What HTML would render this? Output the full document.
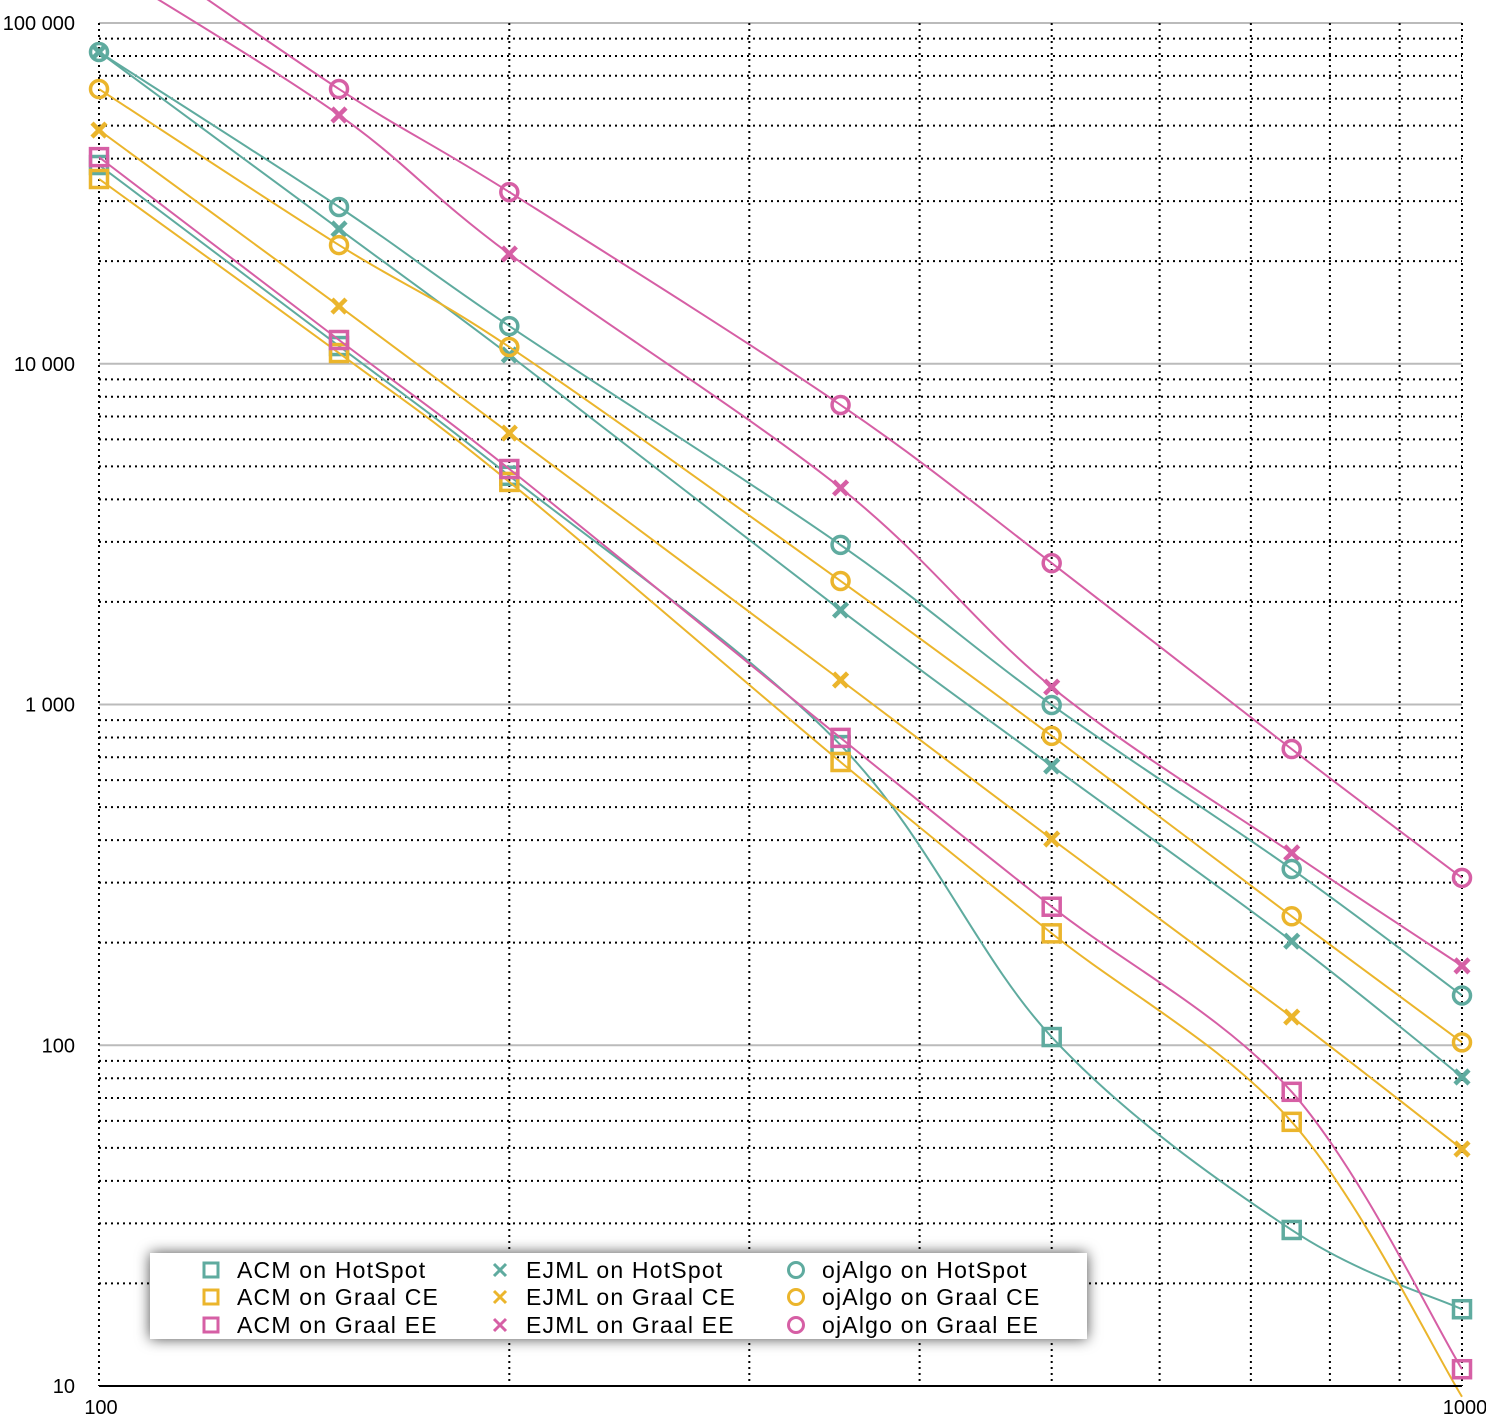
<!DOCTYPE html>
<html><head><meta charset="utf-8"><style>
body{margin:0;background:#fff}
svg{display:block;font-family:"Liberation Sans",sans-serif}
</style></head><body>
<svg id="chart" width="1486" height="1419" viewBox="0 0 1486 1419" xmlns="http://www.w3.org/2000/svg">
<defs><filter id="sh" x="-10%" y="-40%" width="120%" height="180%"><feDropShadow dx="0" dy="0" stdDeviation="7" flood-color="#000" flood-opacity="0.7"/></filter></defs>
<g id="grid"></g>
<g id="series"></g>
<g id="axes"></g>
<g id="legend"></g>
</svg>
<script>
const xValues=[100,150,200,350,500,750,1000];
const yTickValues=[10,100,1000,10000,100000];
const yTickLabels=["10","100","1 000","10 000","100 000"];
const xTickValues=[100,1000];
const xTickLabels=["100","1000"];
const acmHotSpot=[38300,11270,4690,760,105.7,28.7,16.8];
const acmGraalCE=[34850,10750,4500,678,213,59.6,9.3];
const acmGraalEE=[40400,11740,4910,798,255,73,11.2];
const ejmlHotSpot=[82200,24860,10610,1893,660,202,80.7];
const ejmlGraalCE=[48500,14770,6260,1180,403,121,49.6];
const ejmlGraalEE=[150000,53700,21000,4320,1125,367,171];
const ojHotSpot=[82200,28840,12900,2940,997,329,140];
const ojGraalCE=[64000,22300,11200,2304,809,239,102];
const ojGraalEE=[195000,64000,31900,7570,2600,740,310];
const seriesNames=["ACM on HotSpot","ACM on Graal CE","ACM on Graal EE","EJML on HotSpot","EJML on Graal CE","EJML on Graal EE","ojAlgo on HotSpot","ojAlgo on Graal CE","ojAlgo on Graal EE"];

const NS="http://www.w3.org/2000/svg";
const X0=99,X1=1462,Y10=1386,DEC=340.75;
function sx(v){return X0+Math.log10(v/100)*(X1-X0);}
function sy(v){return Y10-Math.log10(v/10)*DEC;}
function mk(tag,attrs,parent){const e=document.createElementNS(NS,tag);for(const k in attrs)e.setAttribute(k,attrs[k]);parent.appendChild(e);return e;}
const C={t:"#5fab9f",y:"#ebb52c",p:"#d65fa5"};
const grid=document.getElementById('grid'),ser=document.getElementById('series'),axes=document.getElementById('axes'),leg=document.getElementById('legend');

for(let d=10;d<100000;d*=10){for(let m=2;m<=9;m++){const y=sy(d*m);
const l=mk('line',{x1:X0,x2:X1,y1:y,y2:y,stroke:'#000','stroke-width':2,'stroke-dasharray':'2 4'},grid);
}}
yTickValues.forEach((v,i)=>{const y=sy(v);
if(i>0){const l=mk('line',{x1:X0,x2:X1,y1:y,y2:y,stroke:'#bbb','stroke-width':2},grid);
}
const t=mk('text',{x:75,y:y+7,'text-anchor':'end','font-size':20,fill:'#000'},axes);t.textContent=yTickLabels[i];
});
for(let v=200;v<=1000;v+=100){const x=sx(v);
const l=mk('line',{x1:x,x2:x,y1:23,y2:Y10,stroke:'#000','stroke-width':2,'stroke-dasharray':'2 4'},grid);
}
{const l=mk('line',{x1:X0,x2:X0,y1:23,y2:Y10,stroke:'#000','stroke-width':2,'stroke-dasharray':'2 4'},grid);
}
{const l=mk('line',{x1:X0,x2:X1,y1:Y10,y2:Y10,stroke:'#000','stroke-width':2},axes);
}
xTickValues.forEach((v,i)=>{const t=mk('text',{x:sx(v)+(i?3:2),y:1414,'text-anchor':'middle','font-size':20},axes);t.textContent=xTickLabels[i];
});

function marker(type,x,y,col,parent){let e;
if(type==='s')e=mk('rect',{x:x-8.5,y:y-8.5,width:17,height:17,fill:'none',stroke:col,'stroke-width':3.5},parent);
else if(type==='o')e=mk('circle',{cx:x,cy:y,r:8.5,fill:'none',stroke:col,'stroke-width':3.5},parent);
else e=mk('path',{d:`M${x-7} ${y-7}L${x+7} ${y+7}M${x+7} ${y-7}L${x-7} ${y+7}`,stroke:col,'stroke-width':4.5,fill:'none'},parent);
return e;}
function curve(pts){let d=`M${pts[0][0]} ${pts[0][1]}`;
for(let i=0;i<pts.length-1;i++){const p0=pts[Math.max(0,i-1)],p1=pts[i],p2=pts[i+1],p3=pts[Math.min(pts.length-1,i+2)];
const c1=[p1[0]+(p2[0]-p0[0])/6,p1[1]+(p2[1]-p0[1])/6],c2=[p2[0]-(p3[0]-p1[0])/6,p2[1]-(p3[1]-p1[1])/6];
d+=`C${c1[0]} ${c1[1]} ${c2[0]} ${c2[1]} ${p2[0]} ${p2[1]}`;}return d;}
const allSeries=[[acmHotSpot,'s',C.t],[acmGraalCE,'s',C.y],[acmGraalEE,'s',C.p],[ejmlHotSpot,'x',C.t],[ejmlGraalCE,'x',C.y],[ejmlGraalEE,'x',C.p],[ojHotSpot,'o',C.t],[ojGraalCE,'o',C.y],[ojGraalEE,'o',C.p]];
allSeries.forEach(([vals,type,col],si)=>{const g=mk('g',{},ser);

const pts=vals.map((v,i)=>[sx(xValues[i]),sy(v)]);
const p=mk('path',{d:curve(pts),fill:'none',stroke:col,'stroke-width':2},g);

pts.forEach(q=>{if(q[1]<0||q[1]>Y10+5)return;const m=marker(type,q[0],q[1],col,g);
});});

{const r=mk('rect',{x:150,y:1253,width:937,height:86,fill:'#fff',filter:'url(#sh)'},leg);
}
const colX=[211,500,796],rowY=[1270,1297,1325];
allSeries.forEach(([v,type,col],si)=>{const cx=colX[Math.floor(si/3)],cy=rowY[si%3];
const g=mk('g',{},leg);
if(type==='x'){mk('path',{d:`M${cx-6} ${cy-6}L${cx+6} ${cy+6}M${cx+6} ${cy-6}L${cx-6} ${cy+6}`,stroke:col,'stroke-width':3},g);}
else if(type==='s'){mk('rect',{x:cx-7,y:cy-7,width:14,height:14,fill:'none',stroke:col,'stroke-width':3},g);}
else mk('circle',{cx:cx,cy:cy,r:7.5,fill:'none',stroke:col,'stroke-width':3},g);
const t=mk('text',{x:cx+26,y:cy+8,'font-size':23,'letter-spacing':'1.2',fill:'#000'},g);t.textContent=seriesNames[si];});
</script>
</body></html>
